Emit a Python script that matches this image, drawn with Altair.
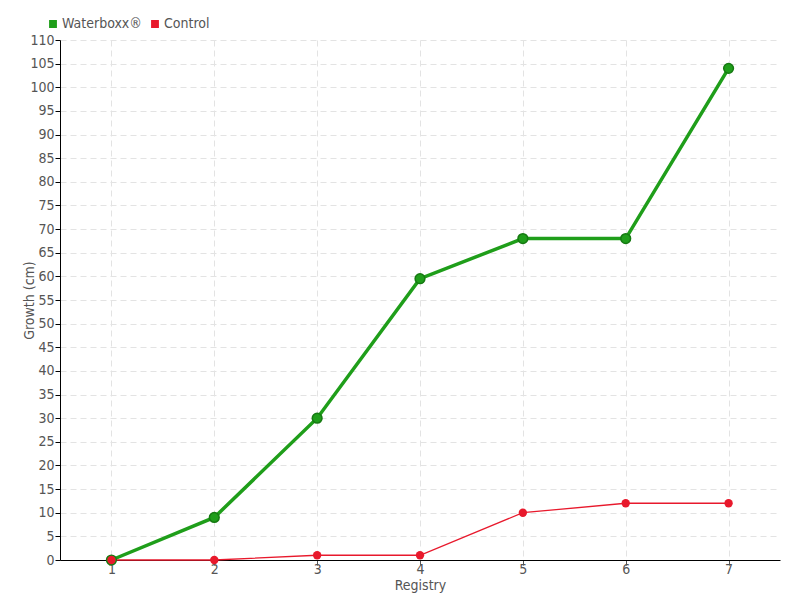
import altair as alt
import pandas as pd

registry = [1, 2, 3, 4, 5, 6, 7]
waterboxx = [0, 9, 30, 59.5, 68, 68, 104]
control = [0, 0, 1, 1, 10, 12, 12]
series_names = ["Waterboxx®", "Control"]
colors = ["#1f9e1a", "#e8192c"]

df = pd.DataFrame({
    "Registry": registry * 2,
    "Growth": waterboxx + control,
    "Series": [series_names[0]] * len(registry) + [series_names[1]] * len(registry),
})

FONT = "DejaVu Sans Condensed, Roboto, sans-serif"
TXT = "#555555"

x = alt.X("Registry:Q", scale=alt.Scale(domain=[0.5, 7.5], nice=False, zero=False),
          axis=alt.Axis(values=registry, format="d", title="Registry", titlePadding=2,
                        grid=True, gridDash=[6, 4], gridColor="#e3e3e3",
                        domainColor="#000000", tickColor="#555555", tickSize=5,
                        labelFontSize=14, titleFontSize=14, labelColor=TXT, titleColor=TXT,
                        labelFont=FONT, titleFont=FONT, titleFontWeight="normal", labelPadding=-3))
y = alt.Y("Growth:Q", scale=alt.Scale(domain=[0, 110], nice=False),
          axis=alt.Axis(values=list(range(0, 111, 5)), title="Growth (cm)", titleX=-24,
                        grid=True, gridDash=[6, 4], gridColor="#e3e3e3",
                        domainColor="#000000", tickColor="#000000", tickSize=5,
                        labelFontSize=14, titleFontSize=14, labelColor=TXT, titleColor=TXT,
                        labelFont=FONT, titleFont=FONT, titleFontWeight="normal", labelPadding=1))
color = alt.Color("Series:N", scale=alt.Scale(domain=series_names, range=colors),
                  legend=alt.Legend(title=None, orient="none", legendX=-14, legendY=-23,
                                    direction="horizontal", symbolType="square", symbolSize=40,
                                    labelFont=FONT, labelFontSize=14, labelColor=TXT,
                                    columnPadding=6, symbolOffset=0, labelOffset=2))

base = alt.Chart(df)

green_line = base.transform_filter(alt.datum.Series == series_names[0]).mark_line(
    strokeWidth=3.5, color="#1a8a16").encode(x=x, y=y, color=color)
red_line = base.transform_filter(alt.datum.Series == series_names[1]).mark_line(
    strokeWidth=1.3, color="#f0404f").encode(x=x, y=y, color=color)
green_pts = base.transform_filter(alt.datum.Series == series_names[0]).mark_point(
    filled=True, size=95, opacity=1, stroke="#167a12", strokeWidth=1.5).encode(x=x, y=y, color=color)
red_pts = base.transform_filter(alt.datum.Series == series_names[1]).mark_point(
    filled=True, size=70, opacity=1).encode(x=x, y=y, color=color)

chart = alt.layer(green_line, red_line, green_pts, red_pts).properties(
    width=720, height=520,
    autosize=alt.AutoSizeParams(type="none"),
    padding={"left": 52, "top": 32, "right": 12, "bottom": 36},
).configure_view(stroke=None)

chart.save("out.html", embed_options={"renderer": "svg", "actions": False})
